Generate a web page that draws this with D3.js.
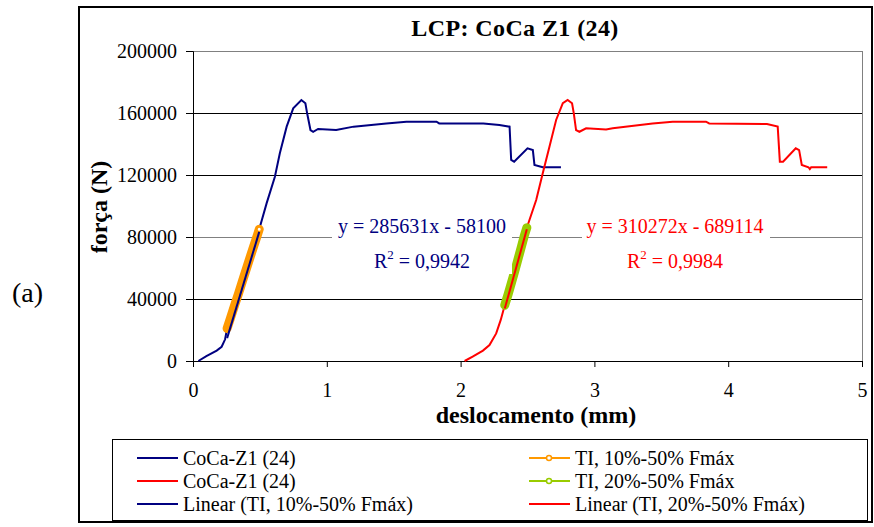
<!DOCTYPE html>
<html><head><meta charset="utf-8">
<script src="https://cdn.jsdelivr.net/npm/d3@7"></script>
<style>body{margin:0;background:#fff}svg{display:block}text{font-family:"Liberation Serif","Times New Roman",serif}</style>
</head><body><svg id="c" width="874" height="527"></svg>
<script>
// ---- data ----
const title = "LCP: CoCa Z1 (24)";
const xTicks = [0, 1, 2, 3, 4, 5];
const yTicks = [0, 40000, 80000, 120000, 160000, 200000];
const blueX = [0.04,0.10,0.177,0.214,0.24,0.255,0.28,0.31,0.34,0.37,0.40,0.43,0.46,0.48,0.495,0.55,0.612,0.649,0.70,0.749,0.81,0.84,0.853,0.878,0.898,0.935,1.07,1.20,1.445,1.595,1.82,1.84,2.17,2.29,2.366,2.378,2.40,2.50,2.54,2.552,2.614,2.75];
const blueY = [0,3200,6700,9200,14000,21000,27700,35700,43500,51700,59700,67800,75700,80900,85000,101700,118900,134000,151200,163000,168400,166300,159800,149000,147900,149700,149000,151200,153300,154400,154400,153300,153300,152300,151200,129700,128600,137200,136100,126500,125000,125000];
const redX = [2.03,2.09,2.167,2.216,2.266,2.30,2.33,2.355,2.38,2.405,2.43,2.455,2.475,2.495,2.565,2.614,2.664,2.714,2.764,2.80,2.833,2.846,2.863,2.888,2.938,3.087,3.137,3.435,3.585,3.834,3.858,4.29,4.37,4.386,4.41,4.505,4.53,4.55,4.60,4.61,4.62,4.74];
const redY = [0,2800,6700,10300,17800,26500,36000,43000,50500,58000,66000,74000,80500,86000,103900,121100,138200,155500,166300,168400,166300,159800,149000,147900,150100,149400,150100,153300,154400,154400,153300,152900,151200,128600,128600,137200,136100,126500,125000,123800,125000,125000];
const orangeX = [0.255,0.28,0.31,0.34,0.37,0.40,0.43,0.46,0.48,0.495];
const orangeY = [21000,27700,35700,43500,51700,59700,67800,75700,80900,85000];
const greenX = [2.33,2.355,2.38,2.405,2.43,2.455,2.475,2.495];
const greenY = [36000,43000,50500,58000,66000,74000,80500,86000];
const fit1 = {slope: 285631, icpt: -58100, eq: "y = 285631x - 58100", r2: "0,9942"};
const fit2 = {slope: 310272, icpt: -689114, eq: "y = 310272x - 689114", r2: "0,9984"};
const legendItems = ["CoCa-Z1 (24)", "CoCa-Z1 (24)", "Linear (TI,  10%-50% Fmáx)", "TI,  10%-50% Fmáx", "TI,  20%-50% Fmáx", "Linear (TI,  20%-50% Fmáx)"];

const C = {blue:"#000080", red:"#ff0000", orange:"#ff9900", green:"#99cc00"};
const svg = d3.select("#c");
const x = d3.scaleLinear().domain([0,5]).range([193,862]);
const y = d3.scaleLinear().domain([0,200000]).range([361,51]);
const zip = (a,b)=>a.map((v,i)=>[v,b[i]]);
const line = d3.line().x(d=>x(d[0])).y(d=>y(d[1]));

// outer border
svg.append("rect").attr("x",79).attr("y",7).attr("width",793).attr("height",515).attr("fill","none").attr("stroke","#000").attr("stroke-width",2);
// (a)
svg.append("text").attr("x",12).attr("y",302).attr("font-size",28).text("(a)");
// title
svg.append("text").attr("x",515).attr("y",36).attr("text-anchor","middle").attr("font-size",24).attr("font-weight","bold").attr("letter-spacing",0.4).text(title);

// gridlines
yTicks.forEach(t=>{
  if(t===0) return;
  svg.append("line").attr("x1",x(0)).attr("x2",x(5)).attr("y1",Math.round(y(t))+0.5).attr("y2",Math.round(y(t))+0.5)
    .attr("stroke",(t===80000||t===200000)?"#808080":"#000").attr("stroke-width",1);
});
svg.append("line").attr("x1",x(5)+0.5).attr("x2",x(5)+0.5).attr("y1",y(200000)).attr("y2",y(0)).attr("stroke","#808080");

// axes
const gx = svg.append("g").attr("transform",`translate(0,${y(0)})`)
  .call(d3.axisBottom(x).tickValues(xTicks).tickSize(6).tickFormat(d3.format("d")));
const gy = svg.append("g").attr("transform",`translate(${x(0)},0)`)
  .call(d3.axisLeft(y).tickValues(yTicks).tickSize(7).tickPadding(9).tickFormat(d=>String(d)));
[gx,gy].forEach(g=>{g.select(".domain").attr("stroke","#000");g.selectAll(".tick line").attr("stroke","#000");
  g.selectAll("text").attr("font-family","Liberation Serif").attr("font-size",20).attr("fill","#000");});
gx.selectAll("text").attr("y",36).attr("dy",0);
gy.selectAll("text").attr("dy","0.34em");

// axis titles
svg.append("text").attr("x",536).attr("y",423).attr("text-anchor","middle").attr("font-size",24).attr("font-weight","bold").text("deslocamento (mm)");
svg.append("text").attr("transform","translate(107,207) rotate(-90)").attr("text-anchor","middle").attr("font-size",24).attr("font-weight","bold").text("força (N)");

// series
svg.append("path").datum(zip(blueX,blueY)).attr("d",line).attr("fill","none").attr("stroke",C.blue).attr("stroke-width",2);
svg.append("path").datum(zip(redX,redY)).attr("d",line).attr("fill","none").attr("stroke",C.red).attr("stroke-width",2);

function band(xs,ys,col,mark){
  const pts = zip(xs,ys);
  svg.append("path").datum(pts).attr("d",line).attr("fill","none").attr("stroke",col).attr("stroke-width",9).attr("stroke-linecap","round");
  if(mark){
    const last = pts[pts.length-1];
    svg.append("circle").attr("cx",x(last[0])).attr("cy",y(last[1])).attr("r",2.5).attr("fill","#fff").attr("stroke",col).attr("stroke-width",2);
  }
}
band(orangeX,orangeY,C.orange,true);
band(greenX,greenY,C.green,false);

function trend(xs,f,col){
  const ext = d3.extent(xs);
  svg.append("path").datum(ext.map(v=>[v,f.slope*v+f.icpt])).attr("d",line).attr("fill","none").attr("stroke",col).attr("stroke-width",2);
}
trend(orangeX,fit1,C.blue);
trend(greenX,fit2,C.red);

// trend labels
function label(cx,f,col,bx,bw){
  svg.append("rect").attr("x",bx).attr("y",218).attr("width",bw).attr("height",56).attr("fill","#fff");
  svg.append("text").attr("x",cx).attr("y",233).attr("text-anchor","middle").attr("font-size",20).attr("fill",col).text(f.eq);
  const t = svg.append("text").attr("x",cx).attr("y",268).attr("text-anchor","middle").attr("font-size",20).attr("fill",col);
  t.append("tspan").text("R");
  t.append("tspan").attr("dy",-9).attr("font-size",13).text("2");
  t.append("tspan").attr("dy",9).text(" = "+f.r2);
}
label(422,fit1,C.blue,332,180);
label(675,fit2,C.red,582,188);

// legend
svg.append("rect").attr("x",112.5).attr("y",439.5).attr("width",755).attr("height",81).attr("fill","#fff").attr("stroke","#000").attr("stroke-width",1);
const lg = [
  {col:C.blue, marker:false, cx:137, ty:0},
  {col:C.red, marker:false, cx:137, ty:1},
  {col:C.blue, marker:false, cx:137, ty:2},
  {col:C.orange, marker:true, cx:529, ty:0},
  {col:C.green, marker:true, cx:529, ty:1},
  {col:C.red, marker:false, cx:529, ty:2}
];
lg.forEach((d,i)=>{
  const yy = 458 + d.ty*23;
  svg.append("line").attr("x1",d.cx).attr("x2",d.cx+41).attr("y1",yy).attr("y2",yy).attr("stroke",d.col).attr("stroke-width",2);
  if(d.marker) svg.append("circle").attr("cx",d.cx+20).attr("cy",yy).attr("r",2.5).attr("fill","#fff").attr("stroke",d.col).attr("stroke-width",1.5);
  svg.append("text").attr("x",d.cx+46).attr("y",yy+7).attr("font-size",20).text(legendItems[i]);
});
</script></body></html>
